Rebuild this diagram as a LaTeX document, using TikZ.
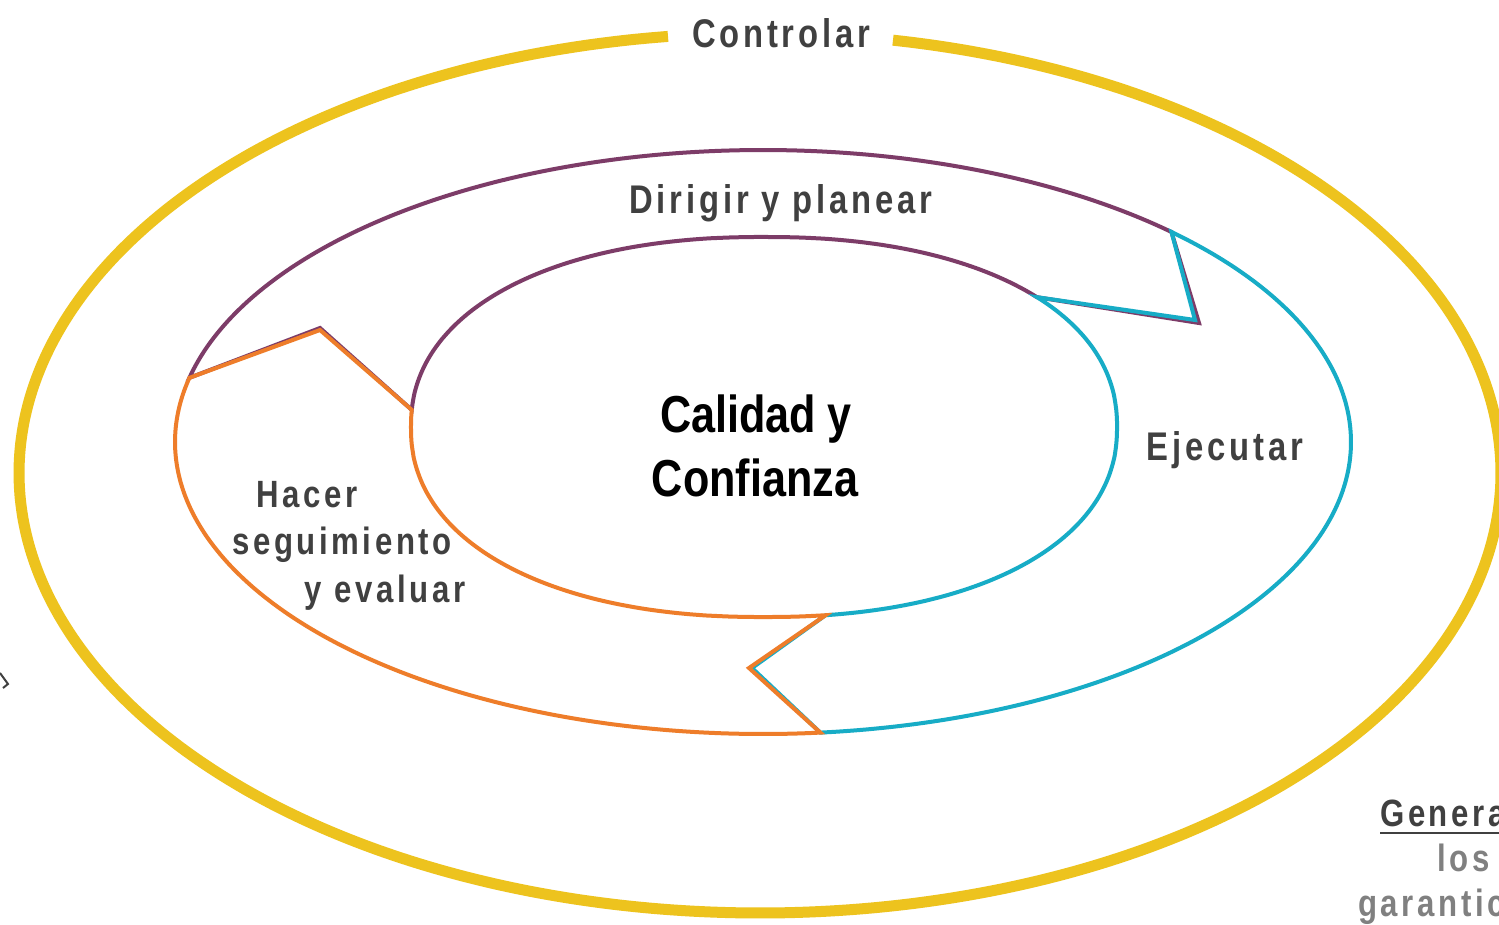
\documentclass[tikz,border=0pt]{standalone}
\usepackage{fontspec}
\setmainfont{Liberation Sans}
\newfontfamily\labfont[FakeStretch=0.82,LetterSpace=9.5]{Liberation Sans}
\newfontfamily\calfont[FakeStretch=0.83]{Liberation Sans}
\definecolor{purpleC}{RGB}{125,60,104}
\definecolor{cyanC}{RGB}{23,172,198}
\definecolor{orangeC}{RGB}{238,125,42}
\definecolor{yellowC}{RGB}{237,195,30}
\definecolor{textgray}{RGB}{64,64,64}
\definecolor{lightgrayC}{RGB}{128,128,128}
\tikzset{
  seg/.style={line width=4pt, line join=miter},
  ring/.style={line width=11pt, color=yellowC},
  lab/.style={font=\labfont\bfseries\fontsize{40}{48}\selectfont, text=textgray, inner sep=0pt, anchor=base},
  smalllab/.style={font=\labfont\bfseries\fontsize{38}{46}\selectfont, text=textgray, inner sep=0pt, anchor=base},
  cal/.style={font=\calfont\bfseries\fontsize{52}{62}\selectfont, text=black, inner sep=0pt, anchor=base},
}
\begin{document}
\begin{tikzpicture}[x=1pt,y=-1pt,
  declare function={
    ox(\t)=763+588*cos(\t);
    oy(\t)=442+292*sin(\t);
    ix(\t)=764+353*sign(cos(\t))*pow(abs(cos(\t))+0.0001,0.909);
    iy(\t)=427+190*sign(sin(\t))*pow(abs(sin(\t))+0.0001,0.909);
    yx(\t)=760+741*cos(\t);
    yy(\t)=473+440*sin(\t);
  }]
\useasboundingbox (0,0) rectangle (1499,924);
\clip (0,0) rectangle (1499,924);
\fill[white] (0,0) rectangle (1499,924);

% outer yellow ring with a gap for the label
\draw[ring] plot[domain=280.34:622.87, samples=240, smooth] ({yx(\x)},{yy(\x)});

% named chevron points
\coordinate (ptip) at (1199,323);
\coordinate (ctip) at (752,668);
\coordinate (otip) at (320,330);
\coordinate (cnotch) at (1195,320);
\coordinate (onotch) at (749,668);
\coordinate (pnotch) at (320,328);

% Dirigir y planear (purple)
\draw[seg, purpleC] plot[domain=192.7:314, samples=90, smooth] ({ox(\x)},{oy(\x)})
  -- (ptip) -- plot[domain=318.9:184, samples=90, smooth] ({ix(\x)},{iy(\x)})
  -- (pnotch) -- cycle;

% Ejecutar (cyan)
\draw[seg, cyanC] plot[domain=314:444.4, samples=90, smooth] ({ox(\x)},{oy(\x)})
  -- (ctip) -- plot[domain=81.7:-41.1, samples=90, smooth] ({ix(\x)},{iy(\x)})
  -- (cnotch) -- cycle;

% Hacer seguimiento y evaluar (orange)
\draw[seg, orangeC] plot[domain=84.4:192.7, samples=90, smooth] ({ox(\x)},{oy(\x)})
  -- (otip) -- plot[domain=184:81.7, samples=90, smooth] ({ix(\x)},{iy(\x)})
  -- (onotch) -- cycle;

% small cut-off mark at the left edge
\draw[textgray, line width=2pt] (0,673) -- (8,684) -- (3,688);

% labels
\node[lab] (ctrl) at (781,47) {Controlar};
\node[lab] (dir) at (781,213) {Dirigir y planear};
\node[lab] (eje) at (1225,460) {Ejecutar};
\node[smalllab] (hac1) at (307,507) {Hacer};
\node[smalllab] (hac2) at (342,554) {seguimiento};
\node[smalllab] (hac3) at (385,602) {y evaluar};
\node[cal] (cal1) at (756,432) {Calidad y};
\node[cal] (cal2) at (755,496) {Confianza};

% cut-off text at the bottom right
\node[smalllab, anchor=base west] (gen) at (1380,826) {Genera};
\draw[textgray, line width=2.5pt] (1380,833) -- (1499,833);
\node[smalllab, anchor=base west, text=lightgrayC] (los) at (1437,871) {los};
\node[smalllab, anchor=base west, text=lightgrayC] (gar) at (1358,916) {garantic};
\end{tikzpicture}
\end{document}
